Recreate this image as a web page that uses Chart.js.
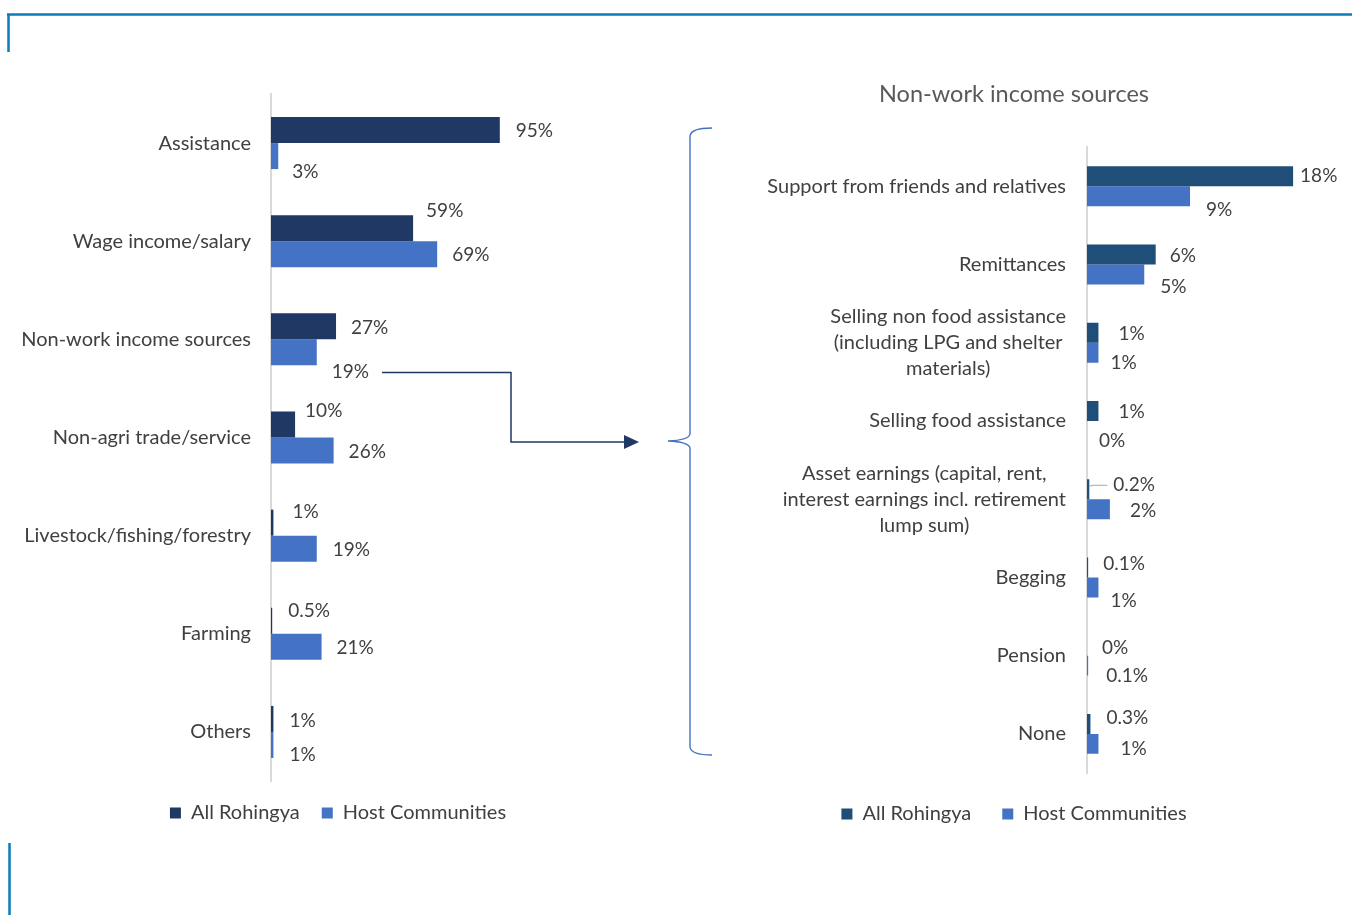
<!DOCTYPE html>
<html>
<head>
<meta charset="utf-8">
<title>Income sources</title>
<script src="https://cdn.jsdelivr.net/npm/chart.js@4.4.1/dist/chart.umd.min.js"></script>
<style>
    body { margin: 0; background: #fff; }
    #wrap { position: relative; width: 1352px; height: 915px; overflow: hidden; }
    .panel { position: absolute; top: 0; }
    #left-panel { left: 0; }
    #right-panel { left: 676px; }
    #overlay { position: absolute; left: 0; top: 0; pointer-events: none; }
</style>
</head>
<body>
<div id="wrap">
    <div class="panel" id="left-panel"><canvas id="mainChart" width="676" height="915"></canvas></div>
    <div class="panel" id="right-panel"><canvas id="nonWorkChart" width="676" height="915"></canvas></div>
    <svg id="overlay" width="1352" height="915">
        <!-- frame -->
        <path d="M7 14.5 H1352 M8.5 14 V52 M9.5 843 V915" stroke="#0B7BB9" stroke-width="2.5" fill="none"/>
        <!-- connector from the non-work bar to the breakdown -->
        <path d="M382 372.5 H511 V442 H626" stroke="#1F3864" stroke-width="1.5" fill="none"/>
        <path d="M624 435 L639 442 L624 449 Z" fill="#1F3864"/>
        <!-- brace -->
        <path d="M712 128 Q691 128 690 136 V434 Q689 440 668 441 Q689 442 690 448 V747 Q691 755 712 755"
              stroke="#4472C4" stroke-width="1.4" fill="none"/>
    </svg>
</div>
<script>
const seriesNames = ['All Rohingya', 'Host Communities'];

const mainCategories = ['Assistance', 'Wage income/salary', 'Non-work income sources', 'Non-agri trade/service',
    'Livestock/fishing/forestry', 'Farming', 'Others'];
const mainRohingya = [95, 59, 27, 10, 1, 0.5, 1];
const mainHost = [3, 69, 19, 26, 19, 21, 1];

const nonWorkCategories = [
    'Support from friends and relatives',
    'Remittances',
    ['Selling non food assistance', '(including LPG and shelter', 'materials)'],
    'Selling food assistance',
    ['Asset earnings (capital, rent,', 'interest earnings incl. retirement', 'lump sum)'],
    'Begging',
    'Pension',
    'None'
];
const nonWorkRohingya = [18, 6, 1, 1, 0.2, 0.1, 0, 0.3];
const nonWorkHost = [9, 5, 1, 0, 2, 1, 0.1, 1];

const FONT = 'Lato';
const TEXT = '#404040';

// value labels at the end of each bar, nudged per bar like the hand-placed ones
const barLabels = {
    id: 'barLabels',
    afterDatasetsDraw(chart, args, opts) {
        const ctx = chart.ctx;
        ctx.save();
        ctx.font = `19px ${FONT}`;
        ctx.fillStyle = TEXT;
        ctx.textBaseline = 'middle';
        ctx.textAlign = 'left';
        chart.data.datasets.forEach((ds, i) => {
            chart.getDatasetMeta(i).data.forEach((bar, j) => {
                const shift = (opts.shift[i] || [])[j] || [0, 0];
                const x = bar.x + opts.gap + shift[0];
                const y = bar.y + shift[1];
                if (shift[2]) {
                    // small leader line back to a very short bar
                    ctx.strokeStyle = '#A6A6A6';
                    ctx.lineWidth = 1.2;
                    ctx.beginPath();
                    ctx.moveTo(bar.x, bar.y - 3);
                    ctx.lineTo(bar.x + 4, y);
                    ctx.lineTo(x - 6, y);
                    ctx.stroke();
                }
                ctx.fillText(ds.data[j] + '%', x, y);
            });
        });
        ctx.restore();
    }
};

// category labels, multi-line entries centred on their own block
const blockTicks = {
    id: 'blockTicks',
    afterDraw(chart, args, opts) {
        const ctx = chart.ctx;
        const scale = chart.scales.y;
        const right = scale.right - opts.padding;
        ctx.save();
        ctx.font = `20px ${FONT}`;
        ctx.fillStyle = TEXT;
        ctx.textBaseline = 'middle';
        ctx.textAlign = 'center';
        chart.data.labels.forEach((label, i) => {
            const lines = Array.isArray(label) ? label : [label];
            const w = Math.max(...lines.map(l => ctx.measureText(l).width));
            const cy = scale.getPixelForTick(i);
            lines.forEach((line, k) => {
                ctx.fillText(line, right - w / 2, cy + (k - (lines.length - 1) / 2) * opts.lineHeight);
            });
        });
        ctx.restore();
    }
};

function barDatasets(dark, values1, values2) {
    return [
        { label: seriesNames[0], data: values1, backgroundColor: dark, borderWidth: 0 },
        { label: seriesNames[1], data: values2, backgroundColor: '#4472C4', borderWidth: 0 }
    ];
}

function legendOptions(padding) {
    return {
        position: 'bottom',
        labels: { boxWidth: 11, boxHeight: 11, padding: padding, color: TEXT, font: { family: FONT, size: 20 } }
    };
}

function categoryAxis(width) {
    return {
        grid: { display: false, drawTicks: false },
        border: { display: true, color: '#D9D9D9', width: 2 },
        ticks: { display: false },
        afterFit: (scale) => { scale.width = width; }
    };
}

new Chart(document.getElementById('mainChart'), {
    type: 'bar',
    data: { labels: mainCategories, datasets: barDatasets('#203864', mainRohingya, mainHost) },
    options: {
        indexAxis: 'y',
        responsive: false,
        animation: false,
        categoryPercentage: 0.53,
        barPercentage: 1,
        layout: { padding: { top: 94, left: 10, right: 10, bottom: 82 } },
        scales: {
            x: { display: false, min: 0, max: 164 },
            y: categoryAxis(261)
        },
        plugins: {
            legend: legendOptions(22),
            tooltip: { enabled: false },
            blockTicks: { padding: 20, lineHeight: 26 },
            barLabels: {
                gap: 15,
                shift: [
                    [[1, 1], [-2, -17], [0, 2], [-5, -14], [4, -11], [1, -10], [1, 2]],
                    [[-1, 16], [0, 1], [0, 20], [0, 1], [1, 1], [0, 1], [1, 10]]
                ]
            }
        }
    },
    plugins: [barLabels, blockTicks]
});

new Chart(document.getElementById('nonWorkChart'), {
    type: 'bar',
    data: { labels: nonWorkCategories, datasets: barDatasets('#1F4E79', nonWorkRohingya, nonWorkHost) },
    options: {
        indexAxis: 'y',
        responsive: false,
        animation: false,
        categoryPercentage: 0.51,
        barPercentage: 1,
        layout: { padding: { top: 0, left: 36, right: 36, bottom: 81 } },
        scales: {
            x: { display: false, min: 0, max: 20 },
            y: categoryAxis(375)
        },
        plugins: {
            title: {
                display: true,
                text: 'Non-work income sources',
                color: '#595959',
                font: { family: FONT, size: 23.5, weight: 'normal' },
                padding: { top: 80, bottom: 39 }
            },
            legend: legendOptions(31),
            tooltip: { enabled: false },
            blockTicks: { padding: 21, lineHeight: 26 },
            barLabels: {
                gap: 15,
                shift: [
                    [[-8, 0], [-1, 1], [5, 1], [5, 1], [9, -4, true], [0, -4], [0, 2], [1, -6]],
                    [[1, 14], [1, 12], [-3, 10], [-3, 10], [5, 2], [-3, 13], [3, 10], [7, 5]]
                ]
            }
        }
    },
    plugins: [barLabels, blockTicks]
});
</script>
</body>
</html>
